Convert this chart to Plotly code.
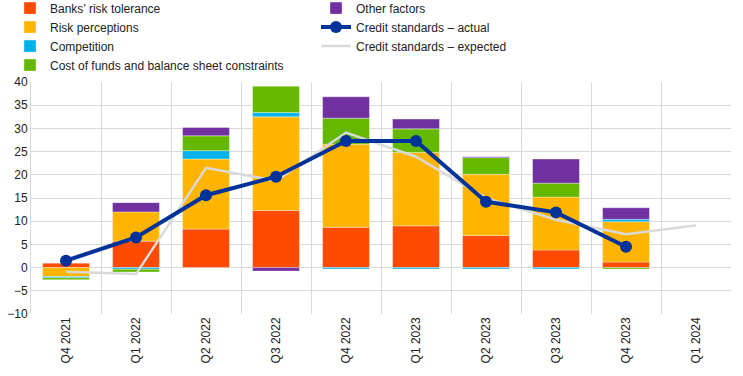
import plotly.graph_objects as go

quarters = ["Q4 2021", "Q1 2022", "Q2 2022", "Q3 2022", "Q4 2022",
            "Q1 2023", "Q2 2023", "Q3 2023", "Q4 2023", "Q1 2024"]

# Positive and negative contributions (stacked relative)
banks_risk_tolerance = [1.0, 5.7, 8.3, 12.3, 8.7, 9.0, 6.9, 3.8, 1.2, None]
risk_perceptions     = [-1.9, 6.3, 15.1, 20.2, 17.9, 15.8, 13.2, 11.4, 8.7, None]
competition          = [-0.3, -0.35, 1.8, 0.9, -0.3, -0.3, -0.3, -0.3, 0.5, None]
cost_of_funds        = [-0.4, -0.6, 3.2, 5.7, 5.6, 5.1, 3.6, 3.0, -0.3, None]
other_factors        = [0.0, 2.0, 1.8, -0.75, 4.6, 2.1, 0.2, 5.2, 2.5, None]

credit_actual   = [1.5, 6.5, 15.6, 19.6, 27.3, 27.3, 14.2, 11.9, 4.5, None]
credit_expected = [-0.9, -1.4, 21.5, 18.7, 29.1, 23.9, 15.0, 10.3, 7.2, 9.1]

colors = {
    "banks": "#FF4B00",
    "risk": "#FFB400",
    "comp": "#00B1EA",
    "cost": "#65B800",
    "other": "#7030A0",
    "actual": "#003299",
    "expected": "#D9D9D9",
}

fig = go.Figure()

def bar(name, vals, color, rank):
    fig.add_trace(go.Bar(
        x=quarters, y=vals, name=name, legendrank=rank,
        marker=dict(color=color, line=dict(color="rgba(255,255,255,0.6)", width=0.6)),
    ))

bar("Banks’ risk tolerance", banks_risk_tolerance, colors["banks"], 1)
bar("Risk perceptions", risk_perceptions, colors["risk"], 3)
bar("Competition", competition, colors["comp"], 5)
bar("Cost of funds and balance sheet constraints", cost_of_funds, colors["cost"], 7)
bar("Other factors", other_factors, colors["other"], 2)

fig.add_trace(go.Scatter(
    x=quarters, y=credit_expected, name="Credit standards – expected",
    mode="lines", line=dict(color=colors["expected"], width=2.5), legendrank=6,
))
fig.add_trace(go.Scatter(
    x=quarters, y=credit_actual, name="Credit standards – actual",
    mode="lines+markers", line=dict(color=colors["actual"], width=4),
    marker=dict(color=colors["actual"], size=12), legendrank=4,
))

fig.update_layout(
    width=743, height=376,
    margin=dict(l=31, r=12, t=82, b=62, autoexpand=False),
    paper_bgcolor="white", plot_bgcolor="white",
    barmode="relative", bargap=0.33,
    font=dict(family="Liberation Sans, Arial, sans-serif", size=12, color="#222222"),
    showlegend=True,
    legend=dict(
        orientation="h", x=-0.030, xanchor="left", y=1.381, yanchor="top",
        entrywidth=261, entrywidthmode="pixels",
        font=dict(size=12), itemwidth=30, tracegroupgap=0,
        bgcolor="rgba(0,0,0,0)",
    ),
    xaxis=dict(
        type="category", tickson="boundaries", showgrid=True,
        gridcolor="#D9D9D9", gridwidth=1, tickangle=-90,
        ticks="", showline=False, range=[-0.5, 9.5],
        tickfont=dict(size=12),
    ),
    yaxis=dict(
        range=[-10, 40], dtick=5, showgrid=True, gridcolor="#D9D9D9",
        gridwidth=1, zeroline=True, zerolinecolor="#D9D9D9", zerolinewidth=1,
        ticks="", tickfont=dict(size=12), showline=True, linecolor="#D9D9D9",
    ),
)

fig.write_html("out.html", config={"displayModeBar": False},
               post_script="document.body.style.margin='0px';")
